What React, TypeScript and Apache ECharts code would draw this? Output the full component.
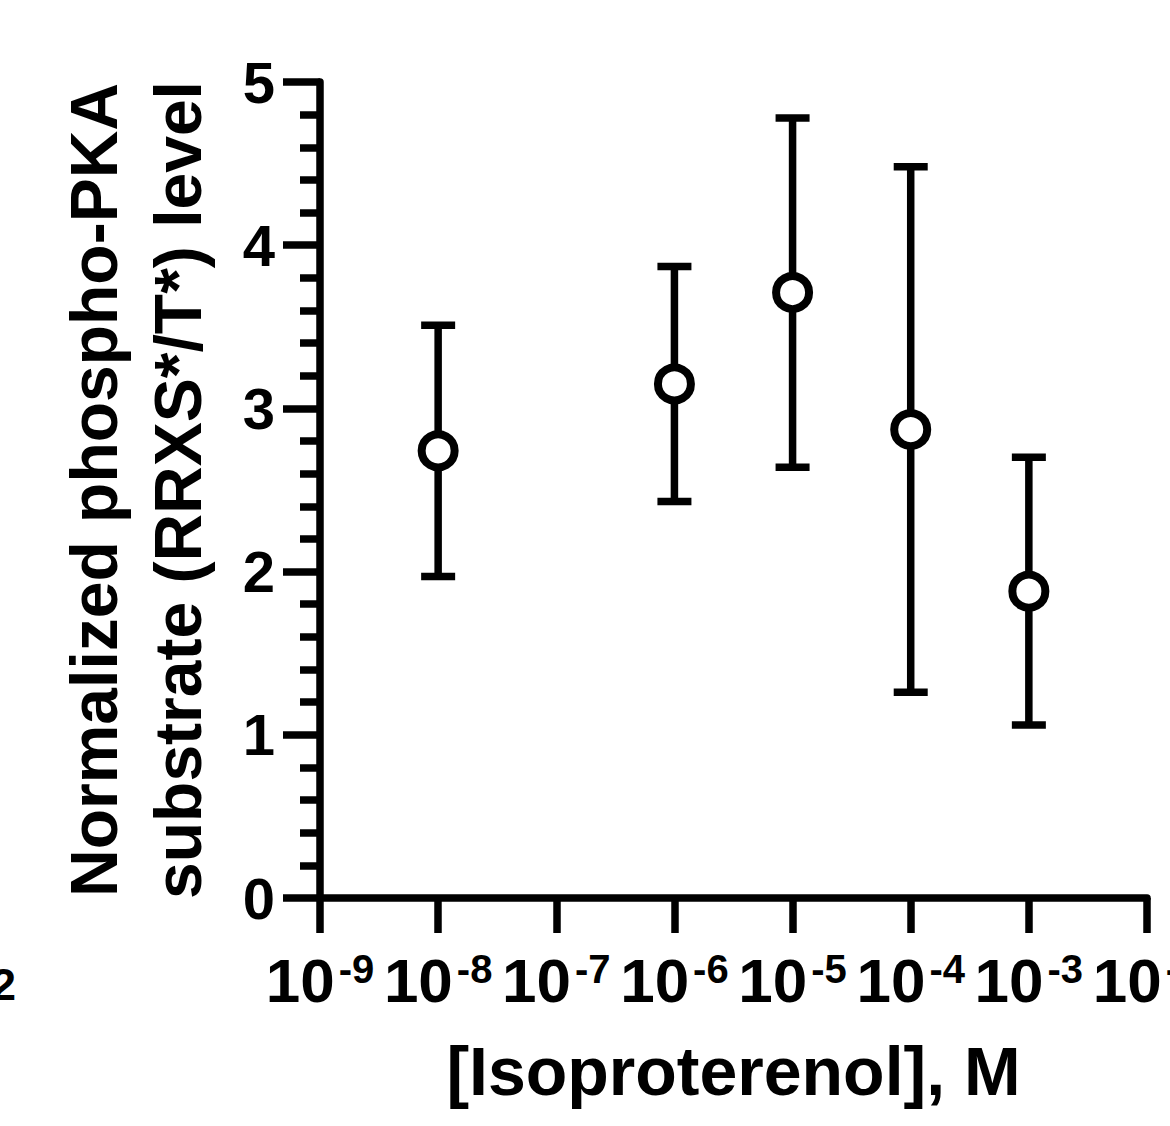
import React, { useEffect, useRef } from "react";
import * as echarts from "echarts";

const concentrations = [1e-8, 1e-6, 1e-5, 1e-4, 1e-3];
const means = [2.74, 3.15, 3.71, 2.87, 1.88];
const errors = [0.77, 0.72, 1.07, 1.61, 0.82];
const yTicks = [0, 1, 2, 3, 4, 5];
const xTitle = "[Isoproterenol], M";
const yTitle = "Normalized phospho-PKA\nsubstrate (RRXS*/T*) level";

const FONT = "'Liberation Sans', Arial, Helvetica, sans-serif";
const LW = 7.5;

export default function App() {
  const ref = useRef<HTMLDivElement>(null);
  useEffect(() => {
    if (!ref.current) return;
    const chart = echarts.init(ref.current, null, { renderer: "svg" });
    const errData = concentrations.map((c, i) => [c, means[i] - errors[i], means[i] + errors[i]]);
    const option: any = {
      animation: false,
      backgroundColor: "#ffffff",
      grid: { left: 320, right: 23, top: 82, bottom: 228, containLabel: false, outerBoundsMode: "none" },
      xAxis: {
        type: "log",
        logBase: 10,
        min: 1e-9,
        max: 1e-2,
        name: xTitle,
        nameLocation: "middle",
        nameGap: 139,
        nameTextStyle: { fontFamily: FONT, fontWeight: "bold", fontSize: 68, color: "#000", lineHeight: 68 },
        axisLine: { show: true, onZero: false, lineStyle: { color: "#000", width: LW } },
        axisTick: { show: true, length: 35, lineStyle: { color: "#000", width: LW } },
        minorTick: { show: false },
        splitLine: { show: false },
        axisLabel: {
          interval: 0,
          showMinLabel: true,
          showMaxLabel: true,
          hideOverlap: false,
          margin: 51,
          formatter: (v: number) => {
            const e = Math.round(Math.log10(v));
            return `{b|10}{s|${e}}`;
          },
          rich: {
            b: { fontFamily: FONT, fontWeight: "bold", fontSize: 62, lineHeight: 62, color: "#000" },
            s: { fontFamily: FONT, fontWeight: "bold", fontSize: 40, lineHeight: 40, color: "#000", verticalAlign: "top", padding: [0, 0, 0, 4] },
          },
        },
      },
      yAxis: {
        type: "value",
        min: yTicks[0],
        max: yTicks[yTicks.length - 1],
        interval: 1,
        name: yTitle,
        nameLocation: "middle",
        nameRotate: 90,
        nameGap: 100,
        nameTextStyle: { fontFamily: FONT, fontWeight: "bold", fontSize: 66, color: "#000", lineHeight: 84, align: "center" },
        axisLine: { show: true, lineStyle: { color: "#000", width: LW } },
        axisTick: { show: true, length: 37, lineStyle: { color: "#000", width: LW } },
        minorTick: { show: true, splitNumber: 5, length: 20, lineStyle: { color: "#000", width: LW } },
        splitLine: { show: false },
        axisLabel: { margin: 45, fontFamily: FONT, fontWeight: "bold", fontSize: 58, color: "#000" },
      },
      series: [
        {
          type: "custom",
          name: "SD",
          data: errData,
          z: 2,
          renderItem: (params: any, api: any) => {
            const x = api.value(0);
            const lo = api.coord([x, api.value(1)]);
            const hi = api.coord([x, api.value(2)]);
            const half = 17;
            const style = { stroke: "#000", lineWidth: LW, lineCap: "butt" };
            return {
              type: "group",
              children: [
                { type: "line", shape: { x1: lo[0], y1: lo[1], x2: hi[0], y2: hi[1] }, style },
                { type: "line", shape: { x1: hi[0] - half, y1: hi[1], x2: hi[0] + half, y2: hi[1] }, style },
                { type: "line", shape: { x1: lo[0] - half, y1: lo[1], x2: lo[0] + half, y2: lo[1] }, style },
              ],
            };
          },
        },
        {
          type: "scatter",
          name: "Mean",
          z: 3,
          data: concentrations.map((c, i) => [c, means[i]]),
          symbol: "circle",
          symbolSize: 33,
          itemStyle: { color: "#fff", borderColor: "#000", borderWidth: 8, opacity: 1 },
        },
      ],
      graphic: [
        {
          type: "text",
          x: 16,
          y: 962,
          style: {
            text: "2",
            fontFamily: FONT,
            fontWeight: "bold",
            fontSize: 45,
            lineHeight: 45,
            fill: "#000",
            textAlign: "right",
            textVerticalAlign: "top",
          },
        },
      ],
    };
    chart.setOption(option);
    return () => chart.dispose();
  }, []);
  return <div ref={ref} style={{ width: 1170, height: 1126, position: "absolute", left: 0, top: 0 }} />;
}
